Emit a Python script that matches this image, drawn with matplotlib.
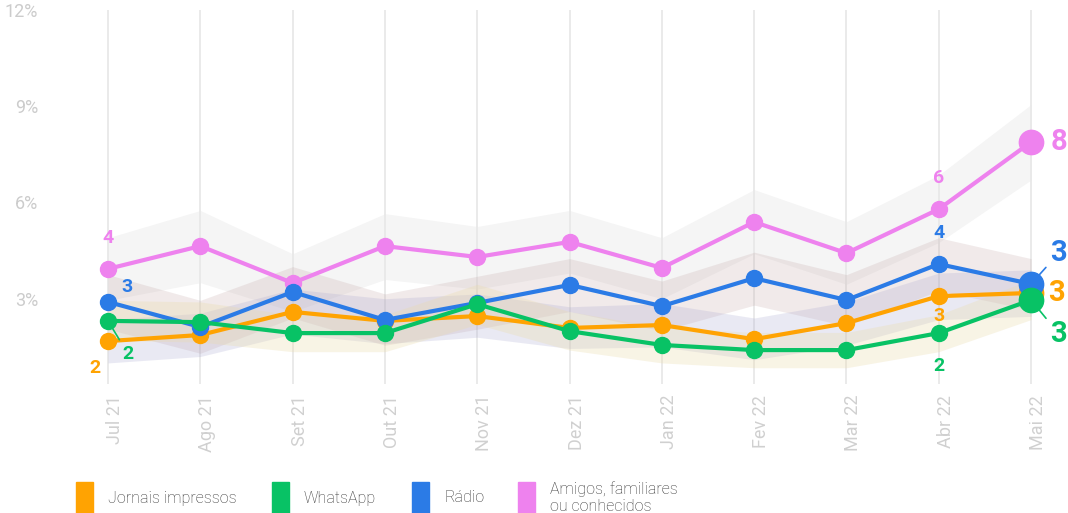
import matplotlib
matplotlib.use("Agg")
import matplotlib.pyplot as plt
import matplotlib.transforms as mtrans
from matplotlib.patches import Rectangle

plt.rcParams['font.family'] = ['Roboto', 'DejaVu Sans']

meses = ["Jul 21", "Ago 21", "Set 21", "Out 21", "Nov 21", "Dez 21",
         "Jan 22", "Fev 22", "Mar 22", "Abr 22", "Mai 22"]

jornais = [1.68, 1.87, 2.59, 2.31, 2.46, 2.09, 2.18, 1.74, 2.24, 3.08, 3.18]
whatsapp = [2.31, 2.27, 1.93, 1.93, 2.83, 1.99, 1.56, 1.40, 1.40, 1.93, 2.96]
radio = [2.90, 2.12, 3.21, 2.34, 2.87, 3.43, 2.77, 3.64, 2.96, 4.08, 3.46]
amigos = [3.93, 4.64, 3.49, 4.64, 4.30, 4.77, 3.96, 5.39, 4.42, 5.79, 7.88]

# confidence bands
jornais_lo = [1.00, 1.20, 1.90, 1.60, 1.80, 1.45, 1.50, 1.10, 1.55, 2.35, 2.45]
jornais_hi = [2.35, 2.55, 3.30, 3.00, 3.15, 2.75, 2.85, 2.40, 2.90, 3.80, 3.90]
whatsapp_lo = [1.70, 1.65, 1.35, 1.35, 2.20, 1.40, 1.00, 0.85, 0.85, 1.35, 2.35]
whatsapp_hi = [2.95, 2.90, 2.50, 2.50, 3.45, 2.60, 2.10, 1.95, 1.95, 2.50, 3.60]
radio_lo = [2.05, 1.30, 2.40, 1.55, 2.05, 2.60, 2.00, 2.80, 2.15, 3.25, 2.65]
radio_hi = [3.75, 2.95, 4.00, 3.15, 3.70, 4.25, 3.55, 4.45, 3.75, 4.90, 4.25]
amigos_lo = [2.95, 3.50, 2.60, 3.60, 3.30, 3.80, 3.00, 4.40, 3.45, 4.75, 6.70]
amigos_hi = [4.90, 5.75, 4.40, 5.65, 5.25, 5.75, 4.90, 6.40, 5.40, 6.85, 9.05]

legenda = ["Jornais impressos", "WhatsApp", "Rádio", "Amigos, familiares\nou conhecidos"]

ORANGE = '#FFA302'
GREEN = '#08C265'
BLUE = '#2B7BE6'
PINK = '#EE82EE'

W, H = 1068, 513
fig = plt.figure(figsize=(W / 100, H / 100), dpi=100)

# axes placement in pixels
left_px, right_px = 15.7, 1068.0
top_px, bot_px = 9.8, 383.8
ax = fig.add_axes([left_px / W, 1 - bot_px / H, (right_px - left_px) / W, (bot_px - top_px) / H])
ax.set_xlim(-1.0, 10.4)
ax.set_ylim(0.35, 12.0)

x = list(range(len(meses)))

# bands
ax.fill_between(x, amigos_lo, amigos_hi, color='#e9e9e9', alpha=0.45, lw=0, zorder=1)
ax.fill_between(x, radio_lo, radio_hi, color='#bb9a9a', alpha=0.2, lw=0, zorder=1)
ax.fill_between(x, jornais_lo, jornais_hi, color='#aaaad2', alpha=0.25, lw=0, zorder=1)
ax.fill_between(x, whatsapp_lo, whatsapp_hi, color='#eadcaa', alpha=0.3, lw=0, zorder=1)

series = [(amigos, PINK, 3), (jornais, ORANGE, 4), (radio, BLUE, 5), (whatsapp, GREEN, 6)]
for vals, col, z in series:
    ax.plot(x, vals, color=col, lw=3, marker='o', ms=11.5, zorder=z,
            solid_capstyle='round')
    ax.plot(x[-1], vals[-1], 'o', color=col, ms=17.5, zorder=z)

# vertical grid
for xi in x:
    ax.axvline(xi, color='#e8e8e8', lw=1.3, zorder=0)

for s in ax.spines.values():
    s.set_visible(False)

ax.set_yticks([3, 6, 9, 12])
ax.set_yticklabels(['3%', '6%', '9%', '12%'])
ax.tick_params(axis='y', length=0, pad=-16, labelsize=13, labelcolor='#cccccc')
ax.set_xticks(x)
ax.set_xticklabels(meses, rotation=90)
ax.tick_params(axis='x', length=0, pad=8, labelsize=13, labelcolor='#d0d0d0')
off = mtrans.ScaledTranslation(7 / 100, 0, fig.dpi_scale_trans)
for lab in ax.get_xticklabels():
    lab.set_transform(lab.get_transform() + off)


def rotulo(i, vals, col, dx, dy, size=14, leader=False):
    txt = str(int(round(vals[i])))
    props = None
    if leader:
        props = dict(arrowstyle='-', color=col, lw=1.2, shrinkA=2, shrinkB=6)
    ax.annotate(txt, (x[i], vals[i]), xytext=(dx, dy), textcoords='offset points',
                ha='center', va='center', fontsize=size, fontweight='bold',
                color=col, arrowprops=props, zorder=8)


rotulo(0, amigos, PINK, 0, 22)
rotulo(0, radio, BLUE, 13.7, 10.8)
rotulo(0, whatsapp, GREEN, 14.4, -23.8, leader=True)
rotulo(0, jornais, ORANGE, -9.4, -19.4)
rotulo(9, amigos, PINK, 0, 22.3)
rotulo(9, radio, BLUE, 0, 22.3)
rotulo(9, jornais, ORANGE, 0, -14.4)
rotulo(9, whatsapp, GREEN, 0, -23.8)
rotulo(10, amigos, PINK, 20, 0, size=21)
rotulo(10, radio, BLUE, 20, 22.3, size=21, leader=True)
rotulo(10, jornais, ORANGE, 18, 0, size=21)
rotulo(10, whatsapp, GREEN, 20, -24.5, size=21, leader=True)

# legend
leg_x = [76, 272, 412, 518]
for lx, col, name in zip(leg_x, [ORANGE, GREEN, BLUE, PINK], legenda):
    fig.patches.append(Rectangle((lx / W, 0), 17 / W, 31 / H, color=col,
                                 transform=fig.transFigure, figure=fig))
    fig.text((lx + 32) / W, 1 - 498 / H, name, ha='left', va='center',
             fontsize=11.5, color='#333333', fontweight='light', linespacing=1.15)

fig.savefig('out.png', dpi=100)
